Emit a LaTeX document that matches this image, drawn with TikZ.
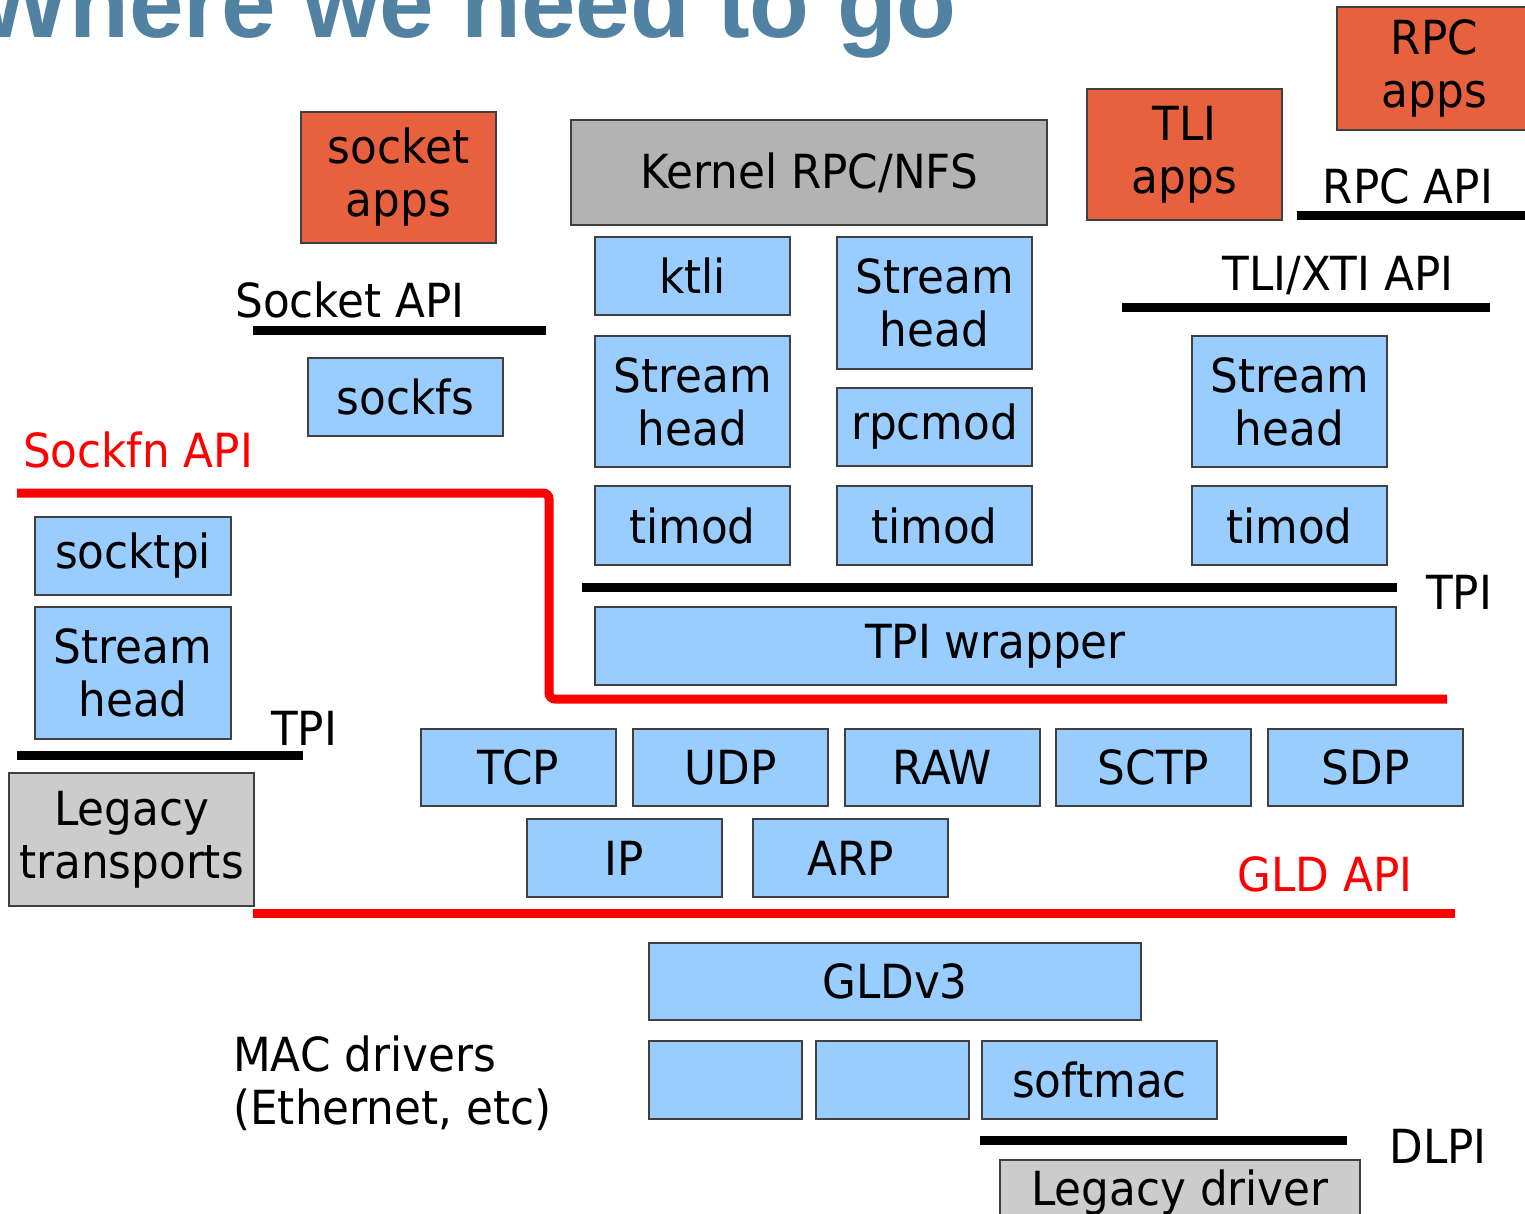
\documentclass[tikz,border=0pt]{standalone}
\usepackage{fontspec}
\setmainfont{DejaVu Sans}[FakeStretch=0.93]
\newfontfamily\titlefont{Liberation Sans}[Scale=1]
\usepackage{tikz}
\definecolor{boxblue}{HTML}{99CCFF}
\definecolor{appred}{HTML}{E8613F}
\definecolor{kgrey}{HTML}{B3B3B3}
\definecolor{lgrey}{HTML}{CCCCCC}
\definecolor{titleblue}{HTML}{5282A2}
\tikzset{
  box/.style={draw=black!75, line width=1.2pt, fill=boxblue, align=center, inner sep=0pt},
  appbox/.style={box, fill=appred},
  kbox/.style={box, fill=kgrey},
  lbox/.style={box, fill=lgrey},
  lbl/.style={align=center, inner sep=0pt},
  api/.style={line width=9pt},
  redapi/.style={line width=9pt, red},
}

\begin{document}
\begin{tikzpicture}[x=1pt,y=-1pt,font=\fontsize{47}{53}\selectfont]
\useasboundingbox (0,0) rectangle (1525,1214);
\clip (0,0) rectangle (1525,1214);

\node[anchor=base east, text=titleblue, inner sep=0pt] (title) at (957,38)
  {\titlefont\bfseries\fontsize{98}{100}\selectfont Where we need to go};

% applications
\node[appbox, minimum width=195, minimum height=131] (sockapps) at (398.5,177.5) {socket\\apps};
\node[kbox, minimum width=476, minimum height=105] (krpc) at (809,172.5) {Kernel RPC/NFS};
\node[appbox, minimum width=195, minimum height=131] (tliapps) at (1184.5,154.5) {TLI\\apps};
\node[appbox, minimum width=195, minimum height=123] (rpcapps) at (1434.5,68.5) {RPC\\apps};

\node[lbl] (rpcapi) at (1408,186) {RPC API};
\draw[api] (1297,216) -- (1525,216);
\node[lbl] (xtiapi) at (1338,276) {TLI/XTI API};
\draw[api] (1122,308) -- (1490,308);
\node[lbl] (sockapi) at (350,300) {Socket API};
\draw[api] (253,331) -- (546,331);

% streams modules
\node[box, minimum width=195, minimum height=78] (ktli) at (692.5,276) {ktli};
\node[box, minimum width=195, minimum height=132] (shk) at (934.5,303) {Stream\\head};
\node[box, minimum width=195, minimum height=131] (sht) at (692.5,401.5) {Stream\\head};
\node[box, minimum width=195, minimum height=78] (rpcmod) at (934.5,427) {rpcmod};
\node[box, minimum width=195, minimum height=78] (sockfs) at (405.5,397) {sockfs};
\node[box, minimum width=195, minimum height=131] (shx) at (1289.5,401.5) {Stream\\head};
\foreach \n/\x in {tma/692.5, tmb/934.5, tmc/1289.5}
  \node[box, minimum width=195, minimum height=79] (\n) at (\x,525.5) {timod};

\node[lbl, text=red] (sockfn) at (138,450) {Sockfn API};
\draw[redapi, rounded corners=6pt] (17,493) -| (549,699) -- (1447,699);

\node[box, minimum width=196, minimum height=78] (socktpi) at (133,556) {socktpi};
\node[box, minimum width=196, minimum height=132] (shs) at (133,673) {Stream\\head};

\draw[api] (582,587) -- (1397,587);
\node[lbl] (tpir) at (1459,592) {TPI};
\node[box, minimum width=801, minimum height=78] (tpiw) at (995.5,646) {TPI wrapper};

\node[lbl] (tpil) at (304,728) {TPI};
\draw[api] (17,755) -- (303,755);
\node[lbox, minimum width=245, minimum height=133] (legtr) at (131.5,839.5) {Legacy\\transports};

% transports and network
\foreach \n/\t/\x in {tcp/TCP/518.5, udp/UDP/730.5, raw/RAW/942.5, sctp/SCTP/1153.5, sdp/SDP/1365.5}
  \node[box, minimum width=195, minimum height=77] (\n) at (\x,767.5) {\t};
\node[box, minimum width=195, minimum height=78] (ip) at (624.5,858) {IP};
\node[box, minimum width=195, minimum height=78] (arp) at (850.5,858) {ARP};

\node[lbl, text=red] (gldapi) at (1325,874) {GLD API};
\draw[redapi] (253,913) -- (1455,913);

% drivers
\node[box, minimum width=492, minimum height=77] (gld) at (895,981.5) {GLDv3};
\node[lbl, anchor=west, align=left] (mac) at (233,1083) {MAC drivers\\(Ethernet, etc)};
\node[box, minimum width=153, minimum height=78] (maca) at (725.5,1080) {};
\node[box, minimum width=153, minimum height=78] (macb) at (892.5,1080) {};
\node[box, minimum width=235, minimum height=78] (softmac) at (1099.5,1080) {softmac};

\draw[api] (980,1140) -- (1347,1140);
\node[lbl] (dlpi) at (1438,1146) {DLPI};
\node[lbox, minimum width=360, minimum height=80] (legdrv) at (1180,1200) {};
\node[lbl, anchor=base] (legdrvt) at (1180,1205) {Legacy driver};

\end{tikzpicture}
\end{document}
